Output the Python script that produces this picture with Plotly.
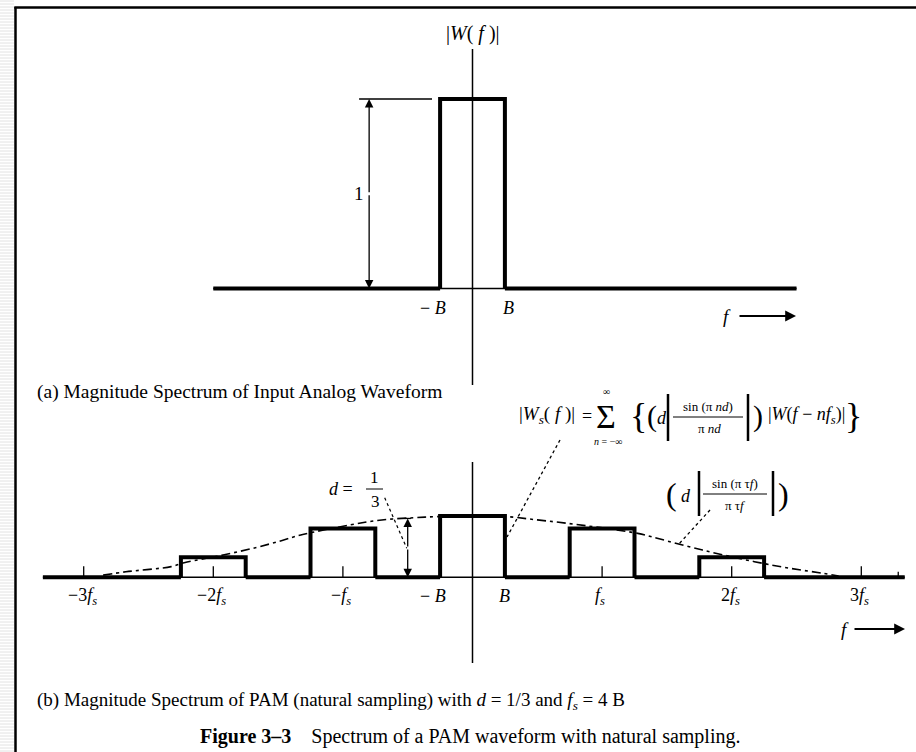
import plotly.graph_objects as go

W, H = 916, 752
FONT = "Liberation Serif"
INK = "black"

# (a) input spectrum |W(f)|, f in units of B
top_edges = [-1, 1]
top_height = 1.0
top_base = [-8.0, 10.0]

# (b) PAM natural sampling, d = 1/3, fs = 4B
rep_centers = [-8, -4, 0, 4, 8]
rep_heights = [0.109, 0.266, 0.333, 0.266, 0.109]
bot_base = [-13.26, 13.34]
tick_pos = [-12, -8, -4, 4, 8, 12]
tick_labels = ["−3<i>f<sub>s</sub></i>", "−2<i>f<sub>s</sub></i>", "−<i>f<sub>s</sub></i>",
               "<i>f<sub>s</sub></i>", "2<i>f<sub>s</sub></i>", "3<i>f<sub>s</sub></i>"]

# dashed envelope d|sin(pi tau f)/(pi tau f)|
env_f = [-11.4, -10.7, -9.3, -8.9, -7.7, -6.7, -5.9, -5.3, -3.8, -2.8, -1.8, -1.1, 0,
         1.05, 2.0, 2.9, 5.1, 5.7, 7.1, 8.7, 9.8, 10.8, 11.3]
env_h = [0.012, 0.030, 0.058, 0.079, 0.121, 0.161, 0.199, 0.230, 0.284, 0.312, 0.324, 0.330, 0.334,
         0.330, 0.312, 0.294, 0.239, 0.212, 0.148, 0.085, 0.049, 0.022, 0.007]

# pixel layout of the page
CX, PXB = 472.5, 32.4          # x of f=0, pixels per B
TOP_Y0, TOP_U = 288.5, 189.5   # baseline and pixels per unit, panel (a)
BOT_Y0, BOT_U = 577.3, 183.9   # baseline and pixels per unit, panel (b)


def px(x):
    return x / W


def py(y):
    return 1 - y / H


fig = go.Figure()


def line(x, y, width, yaxis="y", dash=None, shape="linear"):
    fig.add_trace(go.Scatter(x=x, y=y, mode="lines", yaxis=yaxis, hoverinfo="skip",
                             line=dict(color=INK, width=width, dash=dash, shape=shape)))


def txt(x, y, s, size=14, xref="paper", yref="paper", anchor="center"):
    fig.add_annotation(x=x, y=y, xref=xref, yref=yref, text=s, showarrow=False,
                       xanchor=anchor, yanchor="middle",
                       font=dict(family=FONT, size=size, color=INK))


def dim_arrow(x, y0, y1, yref):
    mid = (y0 + y1) / 2
    for end in (y0, y1):
        fig.add_annotation(x=x, y=end, ax=x, ay=mid, xref="x", yref=yref, axref="x", ayref=yref,
                           text="", showarrow=True, arrowhead=2, arrowsize=1.3, arrowwidth=1.3,
                           arrowcolor=INK)


# ---------- panel (a) ----------
line(top_base, [0, 0], 1.5)
line([top_base[0], top_edges[0]], [0, 0], 4)
line([top_edges[1], top_base[1]], [0, 0], 4)
line([top_edges[0], top_edges[0], top_edges[1], top_edges[1]], [0, top_height, top_height, 0], 4)
line([0, 0], [(TOP_Y0 - 49) / TOP_U, (TOP_Y0 - 385) / TOP_U], 1.5)
line([-3.5, -1.25], [top_height, top_height], 1.5)
dim_arrow(-3.19, 0, top_height, "y")
txt(-3.5, 0.5, "1", 19, "x", "y")
txt(0, (TOP_Y0 - 33) / TOP_U, "|<i>W</i>( <i>f</i> )|", 20, "x", "y")
txt(-1.22, (TOP_Y0 - 308) / TOP_U, "− <i>B</i>", 18, "x", "y")
txt(1.1, (TOP_Y0 - 308) / TOP_U, "<i>B</i>", 18, "x", "y")

# ---------- panel (b) ----------
edges = []
xs, ys = [], []
for c, h in zip(rep_centers, rep_heights):
    xs += [c - 1, c - 1, c + 1, c + 1, None]
    ys += [0, h, h, 0, None]
    edges += [c - 1, c + 1]
line(bot_base, [0, 0], 1.5, "y2")
stops = [bot_base[0]] + edges + [bot_base[1]]
bx, by = [], []
for a, b in zip(stops[0::2], stops[1::2]):
    bx += [a, b, None]
    by += [0, 0, None]
line(bx, by, 4, "y2")
line(xs, ys, 4, "y2")
line(env_f, env_h, 1.6, "y2", dash="9px,4px,3px,4px", shape="spline")

tx, ty = [], []
for t in tick_pos + [13.14]:
    tx += [t, t, None]
    ty += [0, 0.06 if t in tick_pos else 0.03, None]
line(tx, ty, 1.3, "y2")
line([0, 0], [(BOT_Y0 - 462) / BOT_U, (BOT_Y0 - 663) / BOT_U], 1.5, "y2")

lab_y = (BOT_Y0 - 596) / BOT_U
for t, s in zip(tick_pos, tick_labels):
    txt(t - 0.05, lab_y, s, 18, "x", "y2")
txt(-1.22, lab_y, "− <i>B</i>", 18, "x", "y2")
txt(1.0, lab_y, "<i>B</i>", 18, "x", "y2")

# d = 1/3 dimension
dim_arrow(-2.0, 0, 0.32, "y2")
line([-2.1, -1.9], [0.32, 0.32], 1.3, "y2")
line([-2.71, -2.03], [0.432, 0.158], 1.2, "y2", dash="dot")
txt(px(341), py(489), "<i>d</i> =", 18)
txt(px(374), py(477), "1", 17)
txt(px(375), py(501), "3", 17)
fig.add_shape(type="line", xref="paper", yref="paper", x0=px(366), x1=px(383), y0=py(489), y1=py(489),
              line=dict(color=INK, width=1))

# leaders to the formulas
line([(560 - CX) / PXB, (507 - CX) / PXB], [(BOT_Y0 - 440) / BOT_U, (BOT_Y0 - 537) / BOT_U],
     1.3, "y2", dash="dot")
line([(710 - CX) / PXB, (678 - CX) / PXB], [(BOT_Y0 - 510) / BOT_U, (BOT_Y0 - 545) / BOT_U],
     1.3, "y2", dash="dot")

# |Ws(f)| = sum ...
txt(px(547), py(415), "|<i>W<sub>s</sub></i>( <i>f</i> )|", 19)
txt(px(587), py(416), "=", 18)
txt(px(606), py(416), "Σ", 34)
txt(px(606), py(391), "∞", 10)
txt(px(608), py(441), "<i>n</i> = −∞", 10)
txt(px(638), py(416), "{", 36)
txt(px(652), py(416), "(", 30)
txt(px(662), py(418), "<i>d</i>", 18)
txt(px(708), py(406), "sin (π <i>nd</i>)", 13)
txt(px(709), py(428), "π <i>nd</i>", 13)
txt(px(758), py(416), ")", 30)
txt(px(806), py(415), "|<i>W</i>(<i>f</i> − <i>nf<sub>s</sub></i>)|", 18)
txt(px(853), py(416), "}", 36)
for x0, x1, y0, y1, w in [(668, 668, 394, 441, 2.5), (748, 748, 394, 441, 2.5), (673, 743, 417, 417, 1)]:
    fig.add_shape(type="line", xref="paper", yref="paper", x0=px(x0), x1=px(x1), y0=py(y0), y1=py(y1),
                  line=dict(color=INK, width=w))

# envelope label
txt(px(671), py(494), "(", 32)
txt(px(686), py(496), "<i>d</i>", 18)
txt(px(735), py(483), "sin (π τ<i>f</i>)", 13)
txt(px(735), py(505), "π τ<i>f</i>", 13)
txt(px(783), py(494), ")", 32)
for x0, x1, y0, y1, w in [(699, 699, 471, 516, 2.5), (773, 773, 471, 516, 2.5), (703, 767, 494, 494, 1)]:
    fig.add_shape(type="line", xref="paper", yref="paper", x0=px(x0), x1=px(x1), y0=py(y0), y1=py(y1),
                  line=dict(color=INK, width=w))

# f -> arrows
for fx, ax0, ax1, fy in [(727, 738, 796, 316), (845, 853, 905, 629)]:
    txt(px(fx), py(fy), "<i>f</i>", 19)
    fig.add_annotation(x=px(ax1), y=py(fy), ax=-(ax1 - ax0), ay=0, xref="paper", yref="paper",
                       axref="pixel", ayref="pixel", text="", showarrow=True, arrowhead=2,
                       arrowsize=1.2, arrowwidth=1.8, arrowcolor=INK)

# captions
txt(px(35), py(392), "(a) Magnitude Spectrum of Input Analog Waveform", 19.5, anchor="left")
txt(px(35), py(701), "(b) Magnitude Spectrum of PAM (natural sampling) with <i>d</i> = 1/3 and <i>f<sub>s</sub></i> = 4 B",
    19, anchor="left")
txt(px(470), py(736), "<b>Figure 3–3</b>    Spectrum of a PAM waveform with natural sampling.", 20)

# page frame and striped margin
for yy in range(1, H, 3):
    fig.add_shape(type="line", xref="paper", yref="paper", x0=0, x1=px(14), y0=py(yy), y1=py(yy),
                  line=dict(color="#e2e2e2", width=1), layer="below")
fig.add_shape(type="line", xref="paper", yref="paper", x0=px(15.5), x1=px(15.5), y0=0, y1=py(7),
              line=dict(color=INK, width=2.5))
fig.add_shape(type="line", xref="paper", yref="paper", x0=px(14.3), x1=1, y0=py(7.5), y1=py(7.5),
              line=dict(color=INK, width=2.5))

fig.update_layout(
    width=W, height=H, margin=dict(l=0, r=0, t=0, b=0),
    paper_bgcolor="white", plot_bgcolor="white", showlegend=False,
    xaxis=dict(range=[-CX / PXB, (W - CX) / PXB], visible=False, fixedrange=True),
    yaxis=dict(range=[(TOP_Y0 - H) / TOP_U, TOP_Y0 / TOP_U], visible=False, fixedrange=True),
    yaxis2=dict(range=[(BOT_Y0 - H) / BOT_U, BOT_Y0 / BOT_U], visible=False, fixedrange=True,
                overlaying="y"),
)

fig.write_html("out.html", config={"displayModeBar": False},
               post_script="document.body.style.margin='0';")
